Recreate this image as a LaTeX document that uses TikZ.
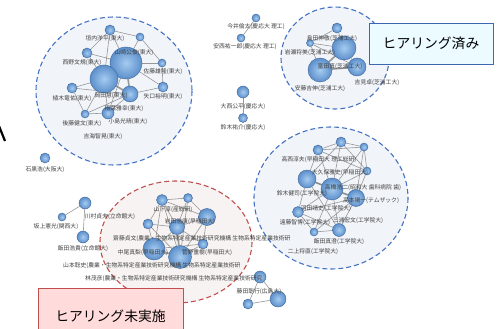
\documentclass[tikz,border=0pt]{standalone}
\usepackage{fontspec}
\setmainfont{Noto Sans CJK JP}
\pgfdeclarelayer{back}
\pgfdeclarelayer{mid}
\pgfsetlayers{back,mid,main}
\definecolor{ringblue}{RGB}{68,114,196}
\definecolor{ringred}{RGB}{192,80,77}
\definecolor{bluebg}{RGB}{241,244,249}
\definecolor{redbg}{RGB}{247,243,243}
\definecolor{ballin}{RGB}{165,203,240}
\definecolor{ballout}{RGB}{92,143,203}
\definecolor{ballrim}{RGB}{62,102,152}
\tikzset{
  auth/.style={circle,inner sep=0pt,minimum size=#1,draw=ballrim,line width=0.4pt,inner color=ballin,outer color=ballout},
  lbl/.style={font=\fontsize{5.8}{6}\selectfont,text=black!75,inner sep=0pt},
  tie/.style={draw=black!50,line width=0.6pt,opacity=0.8},
  heavy/.style={tie,line width=1.6pt},
  ring/.style={dash pattern=on 5pt off 3pt,line width=1.1pt},
  banner/.style={draw,line width=0.8pt,inner sep=0pt,font=\fontsize{13.8}{15}\selectfont}
}
\begin{document}
\begin{tikzpicture}[x=1pt,y=-1pt,line join=round]
\useasboundingbox (0,0) rectangle (504,329);
% groups
\begin{pgfonlayer}{back}
\fill[white] (0,0) rectangle (504,329);
\filldraw[ring,draw=ringblue,fill=bluebg] (114,91) ellipse (78 and 74);
\filldraw[ring,draw=ringblue,fill=bluebg] (335,58) ellipse (54 and 51);
\filldraw[ring,draw=ringblue,fill=bluebg] (331,198) ellipse (77 and 71);
\filldraw[ring,draw=ringred,fill=redbg] (176,242) ellipse (76 and 61);
\draw[line width=2.2pt] (-1,126)--(5,141);
\end{pgfonlayer}
% authors
\node[auth=10] (a1) at (110,30) {};
\node[auth=8] (a2) at (140,37) {};
\node[auth=10] (a3) at (87,53) {};
\node[auth=32] (a4) at (126,63) {};
\node[auth=28] (a5) at (104,79) {};
\node[auth=8] (a6) at (162,63) {};
\node[auth=10] (a7) at (163,87) {};
\node[auth=10] (a8) at (72,88) {};
\node[auth=16] (a9) at (130,94) {};
\node[auth=12] (a10) at (108,113) {};
\node[auth=8] (a11) at (85,114) {};
\node[auth=10] (h1) at (45,158) {};
\node[auth=8] (g1) at (256,18) {};
\node[auth=8] (g2) at (241,38) {};
\node[auth=12] (g3) at (243,92) {};
\node[auth=9] (g4) at (243,118) {};
\node[auth=10] (b1) at (337,28) {};
\node[auth=7] (b2) at (310,43) {};
\node[auth=24] (b3) at (344,48) {};
\node[auth=24] (b4) at (320,70) {};
\node[auth=18] (b5) at (357,67) {};
\node[auth=10] (c1) at (318,150) {};
\node[auth=10] (c2) at (341,142) {};
\node[auth=8] (c3) at (364,147) {};
\node[auth=8] (c4) at (367,171) {};
\node[auth=18] (c5) at (307,179) {};
\node[auth=22] (c6) at (332,189) {};
\node[auth=17] (c7) at (356,198) {};
\node[auth=11] (c8) at (298,212) {};
\node[auth=8] (c9) at (314,232) {};
\node[auth=13] (c10) at (339,230) {};
\node[auth=11] (d1) at (162,200) {};
\node[auth=9] (d2) at (188,198) {};
\node[auth=17] (d3) at (207,217) {};
\node[auth=10] (d4) at (148,224) {};
\node[auth=15] (d5) at (177,227) {};
\node[auth=22] (d6) at (154,249) {};
\node[auth=23] (d7) at (180,257) {};
\node[auth=10] (d8) at (203,244) {};
\node[auth=12] (e1) at (85,203) {};
\node[auth=8] (e2) at (62,217) {};
\node[auth=12] (e3) at (83,237) {};
\node[auth=12] (f1) at (260,277) {};
\node[auth=16] (f2) at (278,299) {};
\node[auth=10] (f3) at (248,304) {};
% co-authorship
\begin{pgfonlayer}{mid}
\foreach \p/\q in {a4/a5,a5/a9,a4/a9,b3/b4,b4/b5,c5/c6,c6/c7,d6/d7,d5/d7}
  \draw[heavy] (\p)--(\q);
\foreach \p/\q in {a1/a4,a1/a3,a1/a2,a2/a4,a3/a4,a3/a5,a4/a6,a4/a7,a6/a7,a7/a9,a5/a8,a8/a9,
    a5/a10,a9/a10,a4/a10,a10/a11,a8/a11,a5/a11,a2/a6,a1/a5,a9/a11,
    g1/g2,g3/g4,b1/b3,b1/b2,b2/b3,b2/b4,b3/b5,b2/b5,
    c1/c2,c2/c3,c1/c5,c1/c6,c2/c6,c3/c4,c3/c6,c4/c6,c4/c7,c2/c4,c1/c4,c5/c7,c5/c8,c6/c8,
    c7/c8,c8/c9,c8/c10,c9/c10,c6/c10,c7/c10,c6/c9,c5/c10,c7/c9,c2/c5,c3/c7,c1/c3,
    d1/d2,d1/d4,d1/d5,d1/d3,d2/d3,d2/d5,d3/d5,d4/d5,d4/d6,d5/d6,d6/d8,d3/d7,d3/d8,d7/d8,
    d4/d7,d1/d6,d2/d7,d5/d8,d1/d7,
    e2/e1,e1/e3,f1/f2,f2/f3,f3/f1}
  \draw[tie] (\p)--(\q);
\end{pgfonlayer}
% names
\path
  (105,39) node[lbl] (n1) {垣内洋平(東大)}
  (134,53) node[lbl] (n2) {山崎公俊(東大)}
  (82,63) node[lbl] (n3) {西野文規(東大)}
  (163,72) node[lbl] (n4) {佐藤雄隆(東大)}
  (163,97) node[lbl] (n5) {矢口裕明(東大)}
  (72,99) node[lbl] (n6) {植木竜佑(東大)}
  (111,96) node[lbl] (n7) {岡田慧(東大)}
  (124,109) node[lbl] (n8) {稲葉雅幸(東大)}
  (82,124) node[lbl] (n9) {後藤健文(東大)}
  (128,122) node[lbl] (n10) {小島光晴(東大)}
  (103,137) node[lbl] (n11) {吉海智晃(東大)}
  (45,170) node[lbl] (n12) {石黒浩(大阪大)}
  (256,27) node[lbl] (n13) {今井倫太(慶応大 理工)}
  (245,47) node[lbl] (n14) {安西祐一郎(慶応大 理工)}
  (243,107) node[lbl] (n15) {大西公平(慶応大)}
  (243,128) node[lbl] (n16) {鈴木祐介(慶応大)}
  (332,39) node[lbl] (n17) {島田伸敬(芝浦工大)}
  (310,53) node[lbl] (n18) {岩瀬将美(芝浦工大)}
  (340,67) node[lbl] (n19) {富田真(芝浦工大)}
  (377,83) node[lbl] (n20) {吉見卓(芝浦工大)}
  (320,89) node[lbl] (n21) {安藤吉伸(芝浦工大)}
  (319,160) node[lbl] (n22) {高西淳夫(早稲田大 理工総研)}
  (340,173) node[lbl] (n23) {大久保雅史(早稲田大)}
  (363,188) node[lbl] (n24) {高橋浩二(昭和大 歯科病院 歯)}
  (302,194) node[lbl] (n25) {鈴木健司(工学院大)}
  (371,201) node[lbl] (n26) {高本陽一(テムザック)}
  (326,209) node[lbl] (n27) {羽田靖史(工学院大)}
  (305,223) node[lbl] (n28) {遠藤智博(工学院大)}
  (358,221) node[lbl] (n29) {三浦宏文(工学院大)}
  (339,242) node[lbl] (n30) {飯田真澄(工学院大)}
  (313,252) node[lbl] (n31) {二上将直(工学院大)}
  (173,210) node[lbl] (n32) {山下淳(産総研)}
  (190,222) node[lbl] (n33) {岩田浩康(早稲田大)}
  (113,239) node[lbl,anchor=west] (n34) {齋藤貞文(農業・生物系特定産業技術研究機構 生物系特定産業技術研}
  (143,253) node[lbl] (n35) {中尾真梨(早稲田大)}
  (207,253) node[lbl] (n36) {菅野重樹(早稲田大)}
  (63,266) node[lbl,anchor=west] (n37) {山本聡史(農業・生物系特定産業技術研究機構 生物系特定産業技術研}
  (85,279) node[lbl,anchor=west] (n38) {林茂彦(農業・生物系特定産業技術研究機構 生物系特定産業技術研究}
  (110,217) node[lbl] (n39) {川村貞夫(立命館大)}
  (56,227) node[lbl] (n40) {坂上憲光(関西大)}
  (83,249) node[lbl] (n41) {飯田浩貴(立命館大)}
  (259,292) node[lbl] (n42) {藤田聡行(広島大)}
  ;
% status boxes
\node[banner,draw=ringblue!90!black,fill=blue!20!cyan!8!white,minimum width=124,minimum height=41] (done) at (431,43.5) {ヒアリング済み};
\node[banner,draw=ringred,fill=red!14!white,minimum width=145,minimum height=56] (todo) at (110.5,316) {ヒアリング未実施};
\end{tikzpicture}
\end{document}
